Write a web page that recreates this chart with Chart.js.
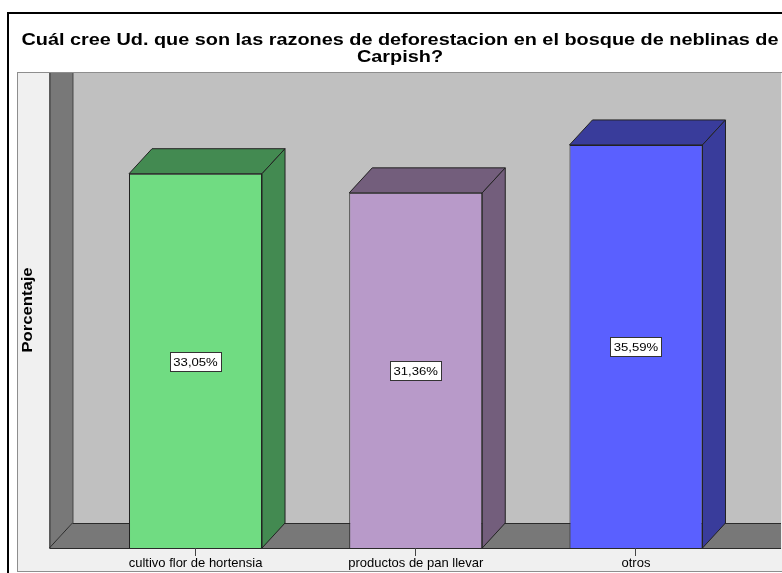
<!DOCTYPE html>
<html>
<head>
<meta charset="utf-8">
<script src="https://cdn.jsdelivr.net/npm/chart.js@4.4.0/dist/chart.umd.min.js"></script>
<style>
  html, body { margin: 0; padding: 0; background: #fff; }
  #wrap { width: 782px; height: 573px; }
</style>
</head>
<body>
<div id="wrap"><canvas id="barChart" width="782" height="573"></canvas></div>
<script>
// Datos del grafico
var titleLines = ['Cuál cree Ud. que son las razones de deforestacion en el bosque de neblinas de', 'Carpish?'];
var yAxisLabel = 'Porcentaje';
var categories = ['cultivo flor de hortensia', 'productos de pan llevar', 'otros'];
var percentages = [33.05, 31.36, 35.59];

// 3D look (SPSS style)
var DX = 23, DY = 25;
var sideColors = ['#438A51', '#735E7C', '#393C9B'];
var FONT = "'Liberation Sans', Arial, sans-serif";
var STRETCH = 1.19; // the original picture is a bit wider than tall

function poly(ctx, pts, fill, stroke) {
    ctx.beginPath();
    ctx.moveTo(pts[0][0], pts[0][1]);
    for (var i = 1; i < pts.length; i++) ctx.lineTo(pts[i][0], pts[i][1]);
    ctx.closePath();
    if (fill) { ctx.fillStyle = fill; ctx.fill(); }
    if (stroke) { ctx.strokeStyle = stroke; ctx.lineWidth = 1; ctx.stroke(); }
}

function wideText(ctx, text, x, y, font, angle) {
    ctx.save();
    ctx.translate(x, y);
    if (angle) ctx.rotate(angle);
    ctx.scale(STRETCH, 1);
    ctx.font = font;
    ctx.fillStyle = '#000';
    ctx.textAlign = 'center';
    ctx.textBaseline = angle ? 'middle' : 'alphabetic';
    ctx.fillText(text, 0, 0);
    ctx.restore();
}

var spssFrame = {
    id: 'spssFrame',
    beforeDraw: function (chart) {
        var ctx = chart.ctx, a = chart.chartArea;
        var W = chart.width, H = chart.height;
        var wallX = a.left - 36;     // front edge of the left wall
        var panelTop = a.top - DY + 2;
        var floorBack = a.bottom - DY;

        ctx.save();
        ctx.fillStyle = '#fff';
        ctx.fillRect(0, 0, W, H);

        // outer frame
        ctx.strokeStyle = '#000';
        ctx.lineWidth = 2;
        ctx.strokeRect(8, 13, W + 20, H + 20);

        // titles
        wideText(ctx, titleLines[0], 400, 45, 'bold 16.7px ' + FONT);
        wideText(ctx, titleLines[1], 400, 62, 'bold 16.7px ' + FONT);

        // light panel
        ctx.fillStyle = '#F0F0F0';
        ctx.fillRect(17, panelTop, W, H - 1 - panelTop);
        ctx.strokeStyle = '#8E8E8E';
        ctx.lineWidth = 1;
        ctx.strokeRect(17.5, panelTop + 0.5, W, H - 2 - panelTop);

        // back wall
        ctx.fillStyle = '#C0C0C0';
        ctx.fillRect(wallX + DX, panelTop + 1, W - wallX - DX - 1, floorBack - panelTop - 1);

        // left wall and floor
        poly(ctx, [[wallX, panelTop + 1], [wallX + DX, panelTop + 1], [wallX + DX, floorBack], [wallX, a.bottom]], '#787878', null);
        poly(ctx, [[wallX, a.bottom], [wallX + DX, floorBack], [W - 1, floorBack], [W - 1, a.bottom]], '#787878', null);

        ctx.strokeStyle = '#2A2A2A';
        ctx.lineWidth = 1;
        ctx.beginPath();
        ctx.moveTo(wallX + 0.5, panelTop + 1); ctx.lineTo(wallX + 0.5, a.bottom);
        ctx.moveTo(wallX + DX + 0.5, panelTop + 1); ctx.lineTo(wallX + DX + 0.5, floorBack + 0.5);
        ctx.lineTo(W - 1, floorBack + 0.5);
        ctx.moveTo(wallX, a.bottom); ctx.lineTo(wallX + DX, floorBack);
        ctx.moveTo(wallX, a.bottom + 0.5); ctx.lineTo(W - 1, a.bottom + 0.5);
        ctx.stroke();

        // y axis title
        wideText(ctx, yAxisLabel, 28, 310, 'bold 14px ' + FONT, -Math.PI / 2);
        ctx.restore();
    },
    afterDatasetsDraw: function (chart) {
        var ctx = chart.ctx;
        var meta = chart.getDatasetMeta(0);
        ctx.save();
        meta.data.forEach(function (bar, i) {
            var p = bar.getProps(['x', 'y', 'base', 'width'], true);
            var l = p.x - p.width / 2, r = p.x + p.width / 2, t = p.y, b = p.base;
            poly(ctx, [[l, t], [l + DX, t - DY], [r + DX, t - DY], [r, t]], sideColors[i], '#222');
            poly(ctx, [[r, t], [r + DX, t - DY], [r + DX, b - DY], [r, b]], sideColors[i], '#222');
        });
        // value boxes
        meta.data.forEach(function (bar, i) {
            var p = bar.getProps(['x', 'y', 'base'], true);
            var txt = percentages[i].toFixed(2).replace('.', ',') + '%';
            var cy = (p.y + p.base) / 2;
            ctx.font = '11px ' + FONT;
            var w = ctx.measureText(txt).width * STRETCH + 7;
            ctx.fillStyle = '#fff';
            ctx.fillRect(Math.round(p.x - w / 2) + 0.5, Math.round(cy - 9) + 0.5, Math.round(w), 19);
            ctx.strokeStyle = '#333';
            ctx.lineWidth = 1;
            ctx.strokeRect(Math.round(p.x - w / 2) + 0.5, Math.round(cy - 9) + 0.5, Math.round(w), 19);
            wideText(ctx, txt, p.x, cy + 5, '11px ' + FONT);
        });
        ctx.restore();
    }
};

var ctx = document.getElementById('barChart').getContext('2d');
var barChart = new Chart(ctx, {
    type: 'bar',
    data: {
        labels: categories,
        datasets: [{
            data: percentages,
            backgroundColor: ['#70DC82', '#B89AC9', '#5A60FF'],
            borderColor: '#222',
            borderWidth: 1,
            barPercentage: 0.604,
            categoryPercentage: 1
        }]
    },
    options: {
        responsive: false,
        animation: false,
        devicePixelRatio: 1,
        events: [],
        layout: { padding: { top: 95, left: 85.4, right: 35.9, bottom: 0 } },
        plugins: {
            legend: { display: false },
            tooltip: { enabled: false }
        },
        scales: {
            x: {
                offset: true,
                grid: { display: true, offset: false, drawOnChartArea: false, drawTicks: true, tickLength: 8, color: '#444' },
                border: { display: false },
                ticks: { color: '#000', font: { family: FONT, size: 13 }, padding: 0, maxRotation: 0, autoSkip: false },
                afterFit: function (scale) { scale.height = 25; }
            },
            y: { display: false, min: 0, max: 40 }
        }
    },
    plugins: [spssFrame]
});
</script>
</body>
</html>
